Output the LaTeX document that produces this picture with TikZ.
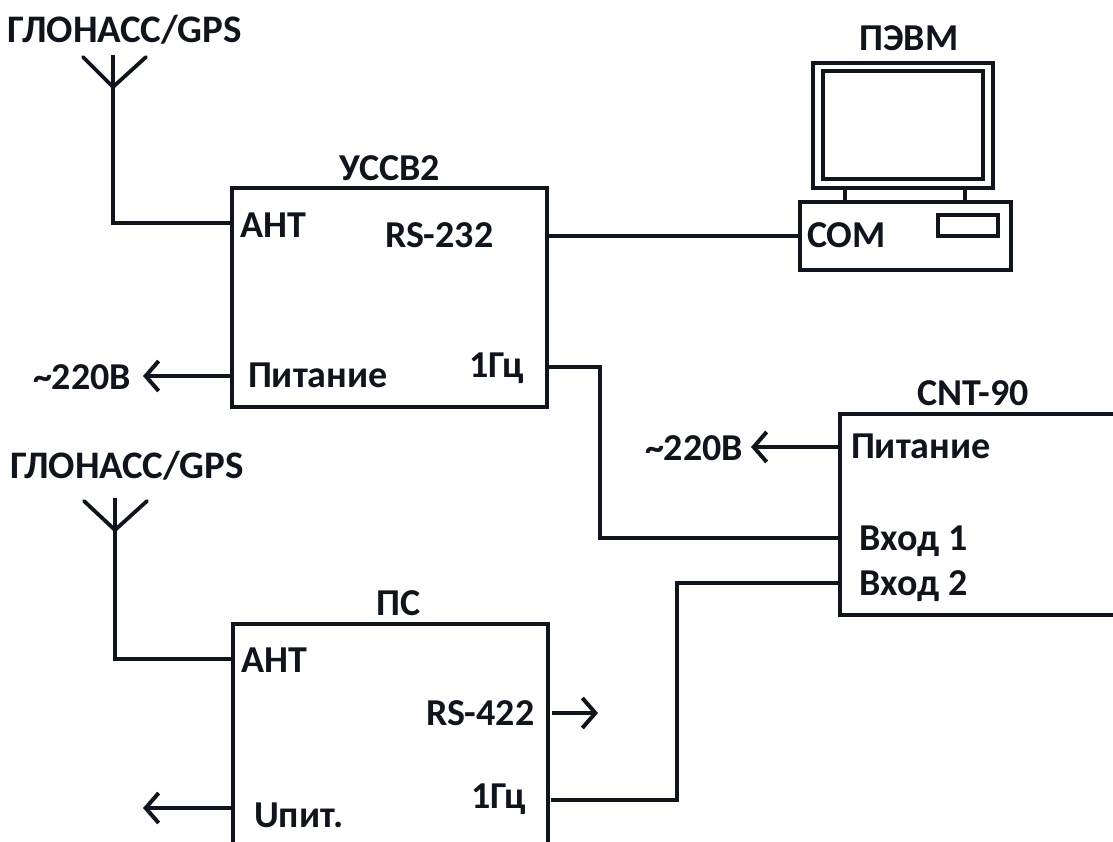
\documentclass[tikz,border=0pt]{standalone}
\usepackage{fontspec}
\setmainfont{Carlito}[BoldFont={Carlito Bold}]
\usetikzlibrary{arrows.meta}
\definecolor{ink}{HTML}{10141C}
\tikzset{
  wire/.style={draw=ink,line width=3.8pt,line join=miter},
  frame/.style={draw=ink,line width=4pt,fill=none,rectangle,inner sep=0pt,outer sep=0pt},
  barb/.style={wire,-{Straight Barb[length=13pt,width=30pt,line width=4pt]}},
  lbl/.style={inner sep=0pt,outer sep=0pt,text=ink,font=\fontsize{38}{40}\selectfont\bfseries,anchor=base west},
  lblc/.style={lbl,anchor=base},
  lblw/.style={lbl,font=\fontsize{39}{41}\selectfont\bfseries},
}
\begin{document}
\begin{tikzpicture}[x=1pt,y=-1pt]
\useasboundingbox (0,0) rectangle (1113,841);
% boxes
\node[frame,minimum width=315pt,minimum height=219pt] (uss) at (389.5,297.5) {};
\node[frame,minimum width=315pt,minimum height=232pt] (ps) at (390,740) {};
\node[frame,minimum width=300pt,minimum height=201pt] (cnt) at (990,514.5) {};
% computer
\node[frame,minimum width=180pt,minimum height=125pt] (mon) at (903,125.5) {};
\node[frame,minimum width=160pt,minimum height=108pt] (scr) at (903,125) {};
\node[frame,minimum width=211pt,minimum height=68pt] (pc) at (905.5,236) {};
\node[frame,minimum width=60pt,minimum height=21pt] (slot) at (967.5,225.5) {};
\draw[wire] (mon.south west -| 845,0) -- (pc.north west -| 845,0);
\draw[wire] (mon.south west -| 965,0) -- (pc.north west -| 965,0);
% antennas
\coordinate (a1top) at (113,55);
\coordinate (a1v) at (113,87);
\coordinate (a1l) at (83,57);
\coordinate (a1r) at (146,57);
\draw[wire] (a1top) -- (113,223) -- (uss.west |- 0,223);
\draw[wire,line cap=round] (a1l) -- (a1v) -- (a1r);
\coordinate (a2top) at (115,498);
\coordinate (a2v) at (115,530);
\coordinate (a2l) at (84,501);
\coordinate (a2r) at (147,501);
\draw[wire] (a2top) -- (115,659) -- (ps.west |- 0,659);
\draw[wire,line cap=round] (a2l) -- (a2v) -- (a2r);
% connectors
\draw[wire] (uss.east |- 0,236) -- (pc.west |- 0,236);
\draw[wire] (uss.east |- 0,367) -- (600,367) -- (600,538) -- (cnt.west |- 0,538);
\draw[wire] (ps.east |- 0,800) ++(3,0) -- (677,800) -- (677,583) -- (cnt.west |- 0,583);
\coordinate (pwr1) at (143,376);
\coordinate (pwr2) at (751,447);
\coordinate (pwr3) at (143,808);
\coordinate (rs) at (598,713);
\draw[barb] (uss.west |- 0,376) -- (pwr1);
\draw[barb] (cnt.west |- 0,447) -- (pwr2);
\draw[barb] (ps.west |- 0,808) -- (pwr3);
\draw[barb] (552,713) -- (rs);
% labels
\node[lblw] (t1) at (8,42) {ГЛОНАСС/GPS};
\node[lblw] (t2) at (10,478) {ГЛОНАСС/GPS};
\node[lblc] (t3) at (909,50) {ПЭВМ};
\node[lblc] (t4) at (390,180) {УССВ2};
\node[lbl] (t5) at (240,237) {АНТ};
\node[lbl] (t6) at (385,247) {RS-232};
\node[lbl] (t7) at (807,247) {COM};
\node[lbl] (t8) at (248,387) {Питание};
\node[lbl] (t9) at (469,377) {1Гц};
\node[lbl] (t10) at (33,389) {\textasciitilde220В};
\node[lbl] (t11) at (645,460) {\textasciitilde220В};
\node[lblc] (t12) at (973,405) {CNT-90};
\node[lbl] (t13) at (851,458) {Питание};
\node[lbl] (t14) at (859,550) {Вход 1};
\node[lbl] (t15) at (859,595) {Вход 2};
\node[lblc] (t16) at (399,615) {ПС};
\node[lbl] (t17) at (241,672) {АНТ};
\node[lbl] (t18) at (426,725) {RS-422};
\node[lbl] (t19) at (471,808) {1Гц};
\node[lbl] (t20) at (254,827) {Uпит.};
\end{tikzpicture}
\end{document}
